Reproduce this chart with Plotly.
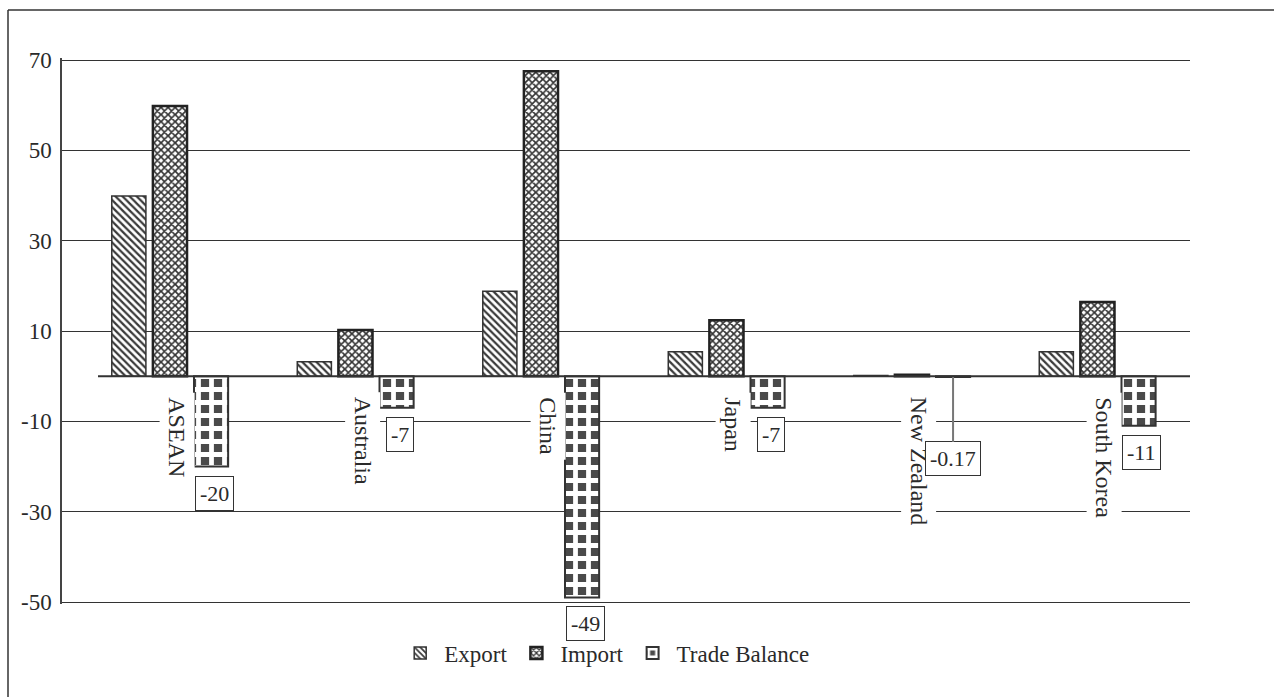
import plotly.graph_objects as go

# Trade with RCEP partners (USD billion)
categories = ["ASEAN", "Australia", "China", "Japan", "New Zealand", "South Korea"]
export_vals = [39.9, 3.2, 18.8, 5.4, 0.13, 5.4]
import_vals = [59.8, 10.2, 67.5, 12.4, 0.30, 16.4]
balance_vals = [-20, -7, -49, -7, -0.17, -11]
balance_labels = ["-20", "-7", "-49", "-7", "-0.17", "-11"]
y_ticks = [70, 50, 30, 10, -10, -30, -50]

SERIF = "Liberation Serif, Times New Roman, serif"
INK = "#2a2a2a"

fig = go.Figure()
fig.add_trace(go.Bar(
    name="Export", x=categories, y=export_vals,
    marker=dict(color="white", line=dict(color="#333333", width=1.5),
                pattern=dict(shape="\\", size=5, solidity=0.45,
                             fgcolor="#3a3a3a", bgcolor="white", fillmode="replace")),
))
fig.add_trace(go.Bar(
    name="Import", x=categories, y=import_vals,
    marker=dict(color="white", line=dict(color="#222222", width=2.5),
                pattern=dict(shape="x", size=5, solidity=0.55,
                             fgcolor="#333333", bgcolor="white", fillmode="replace")),
))
fig.add_trace(go.Bar(
    name="Trade Balance", x=categories, y=balance_vals,
    marker=dict(color="white", line=dict(color="#333333", width=2),
                pattern=dict(shape="+", size=13, solidity=0.6,
                             fgcolor="white", bgcolor="#4a4a4a", fillmode="replace")),
))

BARGAP = 0.335
slot = (1 - BARGAP) / 3  # width of one bar slot inside a group

annotations = []
# category names, rotated, hanging just under the zero line
for i, name in enumerate(categories):
    annotations.append(dict(
        x=i, y=0, xref="x", yref="y", text=name, showarrow=False,
        textangle=90, yanchor="top", xanchor="center", xshift=7, yshift=-16,
        bgcolor="white", borderpad=4,
        font=dict(family=SERIF, size=24, color=INK),
    ))

# boxed value labels under the trade-balance bars
for i, (v, lab) in enumerate(zip(balance_vals, balance_labels)):
    if abs(v) < 1:
        annotations.append(dict(
            x=i + slot, y=v, xref="x", yref="y", text=lab,
            showarrow=True, arrowhead=0, arrowwidth=2, arrowcolor="#777777",
            ax=0, ay=82, standoff=0,
            bgcolor="white", bordercolor="#333333", borderwidth=1, borderpad=4,
            font=dict(family=SERIF, size=22, color=INK),
        ))
    else:
        annotations.append(dict(
            x=i + slot, y=v, xref="x", yref="y", text=lab, showarrow=False,
            yanchor="top", xanchor="center", xshift=3, yshift=-9,
            bgcolor="white", bordercolor="#333333", borderwidth=1, borderpad=4,
            font=dict(family=SERIF, size=22, color=INK),
        ))

W, H = 1274, 697
PLOT_L, PLOT_R, PLOT_T, PLOT_B = 62, 1190, 58, 604
pw, ph = PLOT_R - PLOT_L, PLOT_B - PLOT_T
# a little headroom so the 70 and -50 grid lines are drawn
pad = 2 * 120 / (ph - 4)
y_range = [-50 - pad, 70 + pad]


def px_x(p):
    return (p - PLOT_L) / pw


def px_y(p):
    return (PLOT_B - p) / ph


shapes = [
    # zero baseline
    dict(type="line", xref="paper", yref="y", x0=px_x(98), x1=1, y0=0, y1=0,
         line=dict(color="#333333", width=2), layer="above"),
    # outer frame (left and top edges)
    dict(type="line", xref="paper", yref="paper", x0=px_x(8), x1=px_x(8),
         y0=px_y(H), y1=px_y(10), line=dict(color="#333333", width=1.5)),
    dict(type="line", xref="paper", yref="paper", x0=px_x(8), x1=px_x(W),
         y0=px_y(10), y1=px_y(10), line=dict(color="#333333", width=1.5)),
]

fig.update_layout(
    width=W, height=H,
    margin=dict(l=PLOT_L, r=W - PLOT_R, t=PLOT_T, b=H - PLOT_B),
    paper_bgcolor="white", plot_bgcolor="white",
    barmode="group", bargap=BARGAP, bargroupgap=0.17,
    font=dict(family=SERIF, size=23, color=INK),
    showlegend=True,
    legend=dict(orientation="h", x=0.482, xanchor="center", y=px_y(653), yanchor="middle",
                font=dict(family=SERIF, size=23, color=INK), itemwidth=38),
    xaxis=dict(range=[-0.582, 5.499], showticklabels=False, showgrid=False,
               zeroline=False, showline=False, ticks=""),
    yaxis=dict(range=y_range, tickvals=y_ticks, ticktext=[str(t) for t in y_ticks],
               showgrid=True, gridcolor="#333333", gridwidth=1, zeroline=False,
               showline=True, linecolor="#444444", linewidth=1.5,
               ticks="", ticklabelstandoff=4,
               tickfont=dict(family=SERIF, size=23, color=INK)),
    annotations=annotations,
    shapes=shapes,
)

fig.write_html("out.html")
